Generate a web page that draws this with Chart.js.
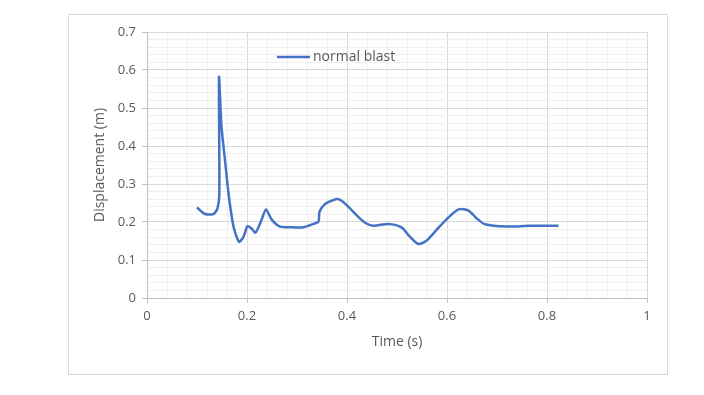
<!DOCTYPE html>
<html>
<head>
<meta charset="utf-8">
<script src="https://cdn.jsdelivr.net/npm/chart.js@4.4.1/dist/chart.umd.min.js"></script>
<style>
  html, body { margin: 0; padding: 0; background: #fff; }
  #wrap { position: relative; width: 704px; height: 395px; }
</style>
</head>
<body>
<div id="wrap"><canvas id="myChart" width="704" height="395"></canvas></div>
<script>
// data
const seriesLabel = 'normal blast';
const timeValues = [0.100, 0.116, 0.133, 0.141, 0.1447, 0.144, 0.149, 0.156, 0.163, 0.173,
  0.184, 0.193, 0.201, 0.209, 0.217, 0.229, 0.238, 0.249, 0.266, 0.293,
  0.313, 0.333, 0.343, 0.345, 0.356, 0.373, 0.383, 0.399, 0.419, 0.436,
  0.453, 0.483, 0.509, 0.526, 0.543, 0.559, 0.579, 0.599, 0.623, 0.643,
  0.659, 0.676, 0.719, 0.766, 0.823];
const displacementValues = [0.238, 0.221, 0.221, 0.236, 0.275, 0.581, 0.451, 0.363, 0.275, 0.188,
  0.148, 0.161, 0.189, 0.183, 0.172, 0.205, 0.233, 0.207, 0.188, 0.186,
  0.186, 0.195, 0.201, 0.227, 0.247, 0.258, 0.260, 0.245, 0.218, 0.198,
  0.190, 0.195, 0.186, 0.161, 0.142, 0.151, 0.179, 0.207, 0.233, 0.230,
  0.210, 0.194, 0.188, 0.190, 0.190];
const xTitle = 'Time (s)';
const yTitle = 'Displacement (m)';

const points = timeValues.map((t, i) => ({ x: t, y: displacementValues[i] }));

const isMajor = (v, step) => Math.abs(v / step - Math.round(v / step)) < 1e-6;
const fontFam = '"Open Sans", sans-serif';

// frame + legend inside plot area
const framePlugin = {
  id: 'frame',
  beforeDraw(chart) {
    const ctx = chart.ctx;
    ctx.save();
    ctx.fillStyle = '#fff';
    ctx.fillRect(0, 0, chart.width, chart.height);
    ctx.strokeStyle = '#d9d9d9';
    ctx.lineWidth = 1;
    ctx.strokeRect(68.5, 14.5, 599, 360);
    ctx.restore();
  },
  afterDraw(chart) {
    const ctx = chart.ctx;
    const ds = chart.data.datasets[0];
    ctx.save();
    ctx.strokeStyle = ds.borderColor;
    ctx.lineWidth = 2.5;
    ctx.beginPath();
    ctx.moveTo(277, 57);
    ctx.lineTo(310, 57);
    ctx.stroke();
    ctx.fillStyle = '#595959';
    ctx.font = '14px ' + fontFam;
    ctx.textBaseline = 'middle';
    ctx.fillText(ds.label, 313, 57);
    ctx.restore();
  }
};

const ctx = document.getElementById('myChart').getContext('2d');
new Chart(ctx, {
  type: 'line',
  data: {
    datasets: [{
      label: seriesLabel,
      data: points,
      borderColor: '#4472C4',
      borderWidth: 2.5,
      pointRadius: 0,
      tension: 0.25,
      fill: false
    }]
  },
  options: {
    responsive: false,
    animation: false,
    layout: { padding: { left: 68, top: 32, right: 57, bottom: 21 } },
    plugins: { legend: { display: false }, tooltip: { enabled: false } },
    scales: {
      x: {
        type: 'linear',
        min: 0,
        max: 1,
        afterFit: (s) => { s.height = 76; },
        ticks: {
          stepSize: 0.04,
          autoSkip: false,
          maxRotation: 0,
          color: '#595959',
          font: { family: fontFam, size: 13 },
          padding: 5,
          callback: (v) => isMajor(v, 0.2) ? String(Math.round(v * 10) / 10) : ''
        },
        grid: {
          color: (c) => isMajor(c.tick.value, 0.2) ? '#d9d9d9' : '#efefef',
          tickColor: (c) => isMajor(c.tick.value, 0.2) ? '#bfbfbf' : 'rgba(0,0,0,0)',
          tickLength: 5
        },
        border: { color: '#bfbfbf' },
        title: {
          display: true,
          text: xTitle,
          color: '#595959',
          font: { family: fontFam, size: 14 },
          padding: { top: 0, bottom: 24 }
        }
      },
      y: {
        type: 'linear',
        min: 0,
        max: 0.7,
        afterFit: (s) => { s.width = 79; },
        ticks: {
          stepSize: 0.02,
          autoSkip: false,
          color: '#595959',
          font: { family: fontFam, size: 13 },
          padding: 6,
          callback: (v) => isMajor(v, 0.1) ? String(Math.round(v * 10) / 10) : ''
        },
        grid: {
          color: (c) => isMajor(c.tick.value, 0.1) ? '#d9d9d9' : '#efefef',
          tickColor: (c) => isMajor(c.tick.value, 0.1) ? '#bfbfbf' : 'rgba(0,0,0,0)',
          tickLength: 5
        },
        border: { color: '#bfbfbf' },
        title: {
          display: true,
          text: yTitle,
          color: '#595959',
          font: { family: fontFam, size: 14 },
          padding: { top: 24, bottom: 0 }
        }
      }
    }
  },
  plugins: [framePlugin]
});
</script>
</body>
</html>
